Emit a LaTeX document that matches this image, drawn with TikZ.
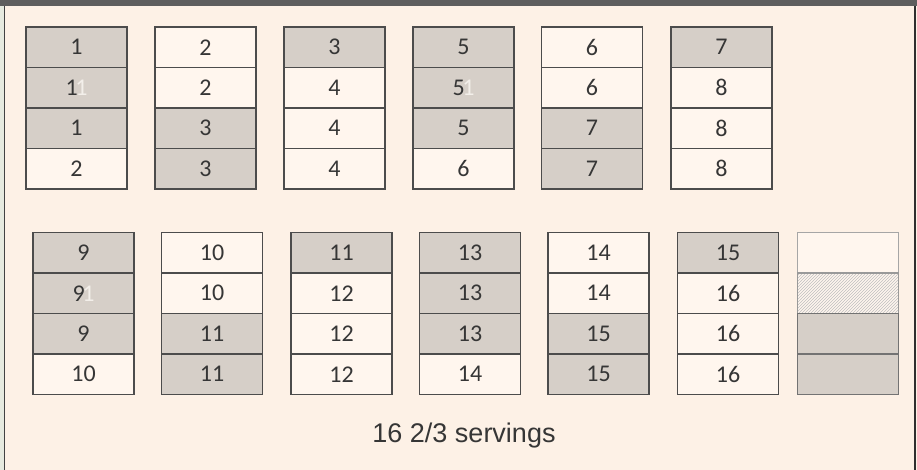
\documentclass[tikz,border=0pt]{standalone}
\usepackage{fontspec}
\setmainfont{Carlito}
\newfontfamily\servingsfont{Liberation Sans}
\usepackage{xcolor}
\usepackage{tikz}
\usetikzlibrary{positioning,patterns}
\definecolor{paper}{HTML}{FDF1E6}
\definecolor{sidestrip}{HTML}{E6EADF}
\definecolor{framegray}{HTML}{5E5E5E}
\definecolor{servedgray}{HTML}{D6CFC8}
\definecolor{blank}{HTML}{FFF6EE}
\definecolor{ghostwhite}{HTML}{F3EFEA}
\definecolor{ink}{HTML}{363636}
\newcommand{\ghostone}{\kern-2.5pt{\color{ghostwhite}1}}

\begin{document}
\begin{tikzpicture}[
    x=1pt, y=1pt,
    cell/.style={draw=black!70, line width=1.3pt, outer sep=0pt, inner sep=0pt,
                 minimum width=101pt, minimum height=40.5pt, text=ink,
                 font=\fontsize{24}{26}\selectfont},
    graycell/.style={cell, fill=servedgray},
    plaincell/.style={cell, fill=blank},
]
    \useasboundingbox (0,0) rectangle (917,470);

    % Frame
    \fill[paper] (0,0) rectangle (917,470);
    \fill[sidestrip] (0,0) rectangle (4,464);
    \fill[framegray] (0,464) rectangle (917,470);
    \draw[framegray!70!black, line width=1.5pt] (4.5,0) -- (4.5,464);
    \draw[framegray!50!black, line width=1.5pt] (915,0) -- (915,464);

    % First row of stacks
    \node[graycell] (s1a) at (76.5, 422.75) {1};
    \node[graycell, below=0pt of s1a] (s1b) {1\ghostone};
    \node[graycell, below=0pt of s1b] (s1c) {1};
    \node[plaincell, below=0pt of s1c] (s1d) {2};

    \node[plaincell] (s2a) at (205.5, 422.75) {2};
    \node[plaincell, below=0pt of s2a] (s2b) {2};
    \node[graycell, below=0pt of s2b] (s2c) {3};
    \node[graycell, below=0pt of s2c] (s2d) {3};

    \node[graycell] (s3a) at (334.5, 422.75) {3};
    \node[plaincell, below=0pt of s3a] (s3b) {4};
    \node[plaincell, below=0pt of s3b] (s3c) {4};
    \node[plaincell, below=0pt of s3c] (s3d) {4};

    \node[graycell] (s4a) at (463.5, 422.75) {5};
    \node[graycell, below=0pt of s4a] (s4b) {5\ghostone};
    \node[graycell, below=0pt of s4b] (s4c) {5};
    \node[plaincell, below=0pt of s4c] (s4d) {6};

    \node[plaincell] (s5a) at (592, 422.75) {6};
    \node[plaincell, below=0pt of s5a] (s5b) {6};
    \node[graycell, below=0pt of s5b] (s5c) {7};
    \node[graycell, below=0pt of s5c] (s5d) {7};

    \node[graycell] (s6a) at (721.5, 422.75) {7};
    \node[plaincell, below=0pt of s6a] (s6b) {8};
    \node[plaincell, below=0pt of s6b] (s6c) {8};
    \node[plaincell, below=0pt of s6c] (s6d) {8};

    % Second row of stacks
    \node[graycell] (s7a) at (83.5, 217.25) {9};
    \node[graycell, below=0pt of s7a] (s7b) {9\ghostone};
    \node[graycell, below=0pt of s7b] (s7c) {9};
    \node[plaincell, below=0pt of s7c] (s7d) {10};

    \node[plaincell] (s8a) at (212, 217.25) {10};
    \node[plaincell, below=0pt of s8a] (s8b) {10};
    \node[graycell, below=0pt of s8b] (s8c) {11};
    \node[graycell, below=0pt of s8c] (s8d) {11};

    \node[graycell] (s9a) at (341.5, 217.25) {11};
    \node[plaincell, below=0pt of s9a] (s9b) {12};
    \node[plaincell, below=0pt of s9b] (s9c) {12};
    \node[plaincell, below=0pt of s9c] (s9d) {12};

    \node[graycell] (s10a) at (470, 217.25) {13};
    \node[graycell, below=0pt of s10a] (s10b) {13};
    \node[graycell, below=0pt of s10b] (s10c) {13};
    \node[plaincell, below=0pt of s10c] (s10d) {14};

    \node[plaincell] (s11a) at (598.5, 217.25) {14};
    \node[plaincell, below=0pt of s11a] (s11b) {14};
    \node[graycell, below=0pt of s11b] (s11c) {15};
    \node[graycell, below=0pt of s11c] (s11d) {15};

    \node[graycell] (s12a) at (728, 217.25) {15};
    \node[plaincell, below=0pt of s12a] (s12b) {16};
    \node[plaincell, below=0pt of s12b] (s12c) {16};
    \node[plaincell, below=0pt of s12c] (s12d) {16};

    % Partly used stack
    \node[plaincell, draw=black!35] (s13a) at (848, 217.25) {};
    \node[plaincell, draw=black!40, preaction={fill=blank}, pattern=north east lines,
          pattern color=black!25, below=0pt of s13a] (s13b) {};
    \node[graycell, draw=black!55, below=0pt of s13b] (s13c) {};
    \node[graycell, draw=black!55, below=0pt of s13c] (s13d) {};

    % Caption
    \node[anchor=base, text=ink, font=\servingsfont\fontsize{27}{30}\selectfont]
        (servings) at (464, 27) {16 2/3 servings};
\end{tikzpicture}
\end{document}
